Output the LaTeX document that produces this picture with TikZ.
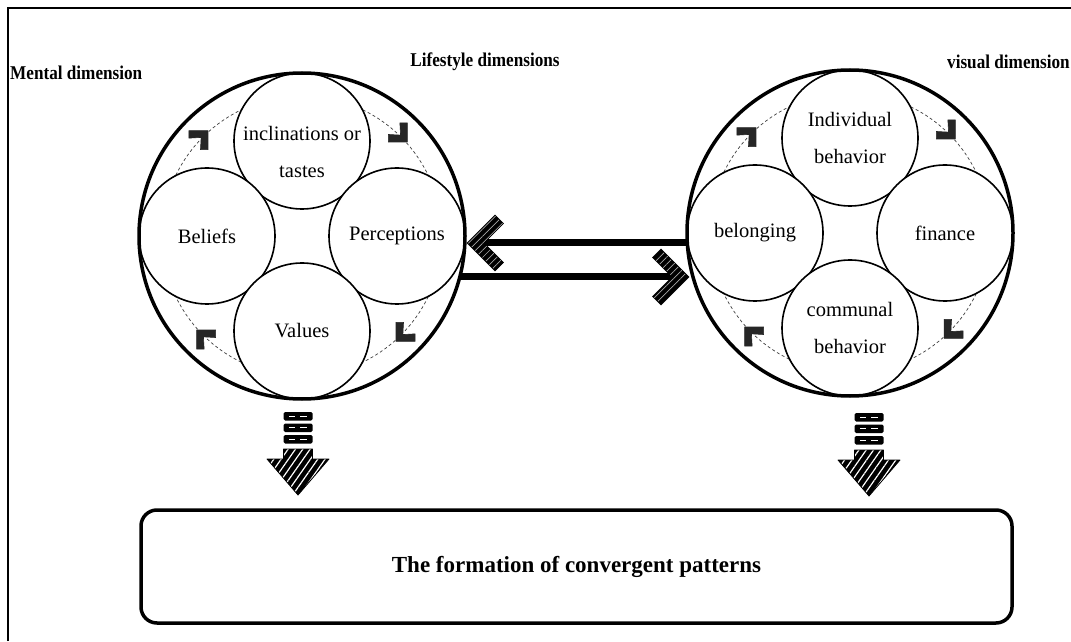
\documentclass[tikz,border=0pt]{standalone}
\usepackage{fontspec}
\setmainfont{Liberation Serif}
\newfontfamily\condfont[FakeStretch=0.88]{Liberation Serif}
\usetikzlibrary{patterns,patterns.meta,calc}
\newcommand\chevshape[4]{% x y rotation scale
  \filldraw[black, line width=0.6pt, line join=miter, preaction={fill=black},
    pattern={Lines[angle=45,distance=5pt,line width=0.7pt]}, pattern color=gray!70,
    shift={(#1,#2)}, rotate=#3, scale=#4]
    (0,0) -- (28,28) -- (36.5,19.5) -- (17,0) -- (36.5,-19.5) -- (28,-28) -- cycle;}
\newcommand\ringchev[2]{% centre coordinate name, angle
  \path ($(#1)+(#2:141)+(#2-90:8)$) coordinate (tmpc);
  \filldraw[black!85, line width=0.6pt, line join=miter,
    shift={(tmpc)}, rotate=#2+90, scale=0.48]
    (0,0) -- (28,28) -- (39,17) -- (20,0) -- (39,-17) -- (28,-28) -- cycle;}
\newcommand\downarr[2]{% centre x, top y
  \foreach \k in {0,1,2}{
    \fill[black, rounded corners=1.5pt] (#1-14.5,#2-\k*11.5) rectangle (#1+14.5,#2-\k*11.5-8.5);
    \draw[white, line width=0.8pt] (#1-9,#2-\k*11.5-4.2) -- (#1-3,#2-\k*11.5-4.2)
      (#1+2,#2-\k*11.5-4.2) -- (#1+9,#2-\k*11.5-4.2);
  }
  \filldraw[black, line width=0.8pt, line join=round, preaction={fill=black},
    pattern={Lines[angle=55,distance=6pt,line width=1.2pt]}, pattern color=white]
    (#1-14.5,#2-37) -- (#1+14.5,#2-37) -- (#1+14.5,#2-47) -- (#1+31,#2-47)
    -- (#1,#2-83) -- (#1-31,#2-47) -- (#1-14.5,#2-47) -- cycle;
}
\begin{document}
\begin{tikzpicture}[x=1pt,y=1pt,
  small/.style={circle, draw, line width=1.6pt, fill=white, minimum size=136pt,
    inner sep=0pt, align=center, font=\fontsize{20.5}{37}\selectfont},
  lbl/.style={align=center, inner sep=0pt, font=\fontsize{20.5}{37}\selectfont},
  big/.style={circle, draw, line width=3.5pt, minimum size=326pt, inner sep=0pt},
  title/.style={font=\condfont\fontsize{19.5}{22}\selectfont\bfseries, inner sep=0pt},
  ring/.style={dash pattern=on 3pt off 2.5pt, line width=0.7pt, black!75},
  conn/.style={line width=7pt},
]
\useasboundingbox (0,0) rectangle (1071,641);
\fill[white] (0,0) rectangle (1071,641);
\draw[line width=2.5pt] (8,0) -- (8,633) -- (1071,633);

% titles
\node[title, anchor=west] (tmental) at (10,568) {Mental dimension};
\node[title] (tlife) at (485,579) {Lifestyle dimensions};
\node[title, anchor=west] (tvisual) at (947,579) {visual dimension};

% left cluster
\coordinate (LC) at (302,405);
\draw[ring] (LC) circle (140);
\node[small] (incl) at (302,500) {};
\node[lbl] (incltxt) at (302,489) {inclinations or\\tastes};
\node[small] (beli) at (207,405) {Beliefs};
\node[small] (perc) at (397,405) {Perceptions};
\node[small] (valu) at (302,310) {Values};
\node[big] (Lbig) at (LC) {};
\ringchev{LC}{135}
\ringchev{LC}{45}
\ringchev{LC}{-45}
\ringchev{LC}{-135}

% right cluster
\coordinate (RC) at (850,408);
\draw[ring] (RC) circle (140);
\node[small] (indi) at (850,503) {Individual\\behavior};
\node[small] (belo) at (755,408) {belonging};
\node[small] (fina) at (945,408) {finance};
\node[small] (comm) at (850,313) {communal\\behavior};
\node[big] (Rbig) at (RC) {};
\ringchev{RC}{135}
\ringchev{RC}{45}
\ringchev{RC}{-45}
\ringchev{RC}{-135}

% connectors between clusters
\coordinate (uStart) at (687,398);
\coordinate (uEnd) at (480,398);
\coordinate (lStart) at (460,364);
\coordinate (lEnd) at (676,364);
\draw[conn] (uStart) -- (uEnd);
\draw[conn] (lStart) -- (lEnd);
\chevshape{467}{398}{0}{1}
\chevshape{689}{364}{180}{1}

% down arrows
\downarr{298}{229}
\downarr{869}{228}

% bottom box
\node[draw, line width=3.5pt, rounded corners=16pt, minimum width=871pt,
  minimum height=113pt, font=\fontsize{23}{26}\selectfont\bfseries] (box)
  at (576.5,74.5) {The formation of convergent patterns};
\end{tikzpicture}
\end{document}
